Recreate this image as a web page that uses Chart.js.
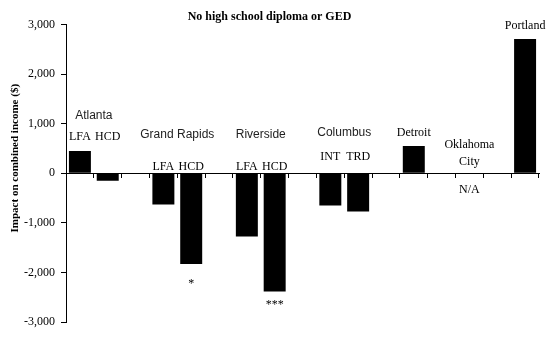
<!DOCTYPE html>
<html>
<head>
<meta charset="utf-8">
<script src="https://cdn.jsdelivr.net/npm/chart.js@4/dist/chart.umd.min.js"></script>
<style>
  html, body { margin: 0; padding: 0; background: #fff; }
  #wrap { width: 560px; height: 340px; }
</style>
</head>
<body>
<div id="wrap"><canvas id="chart"></canvas></div>
<script>
// Données (impact sur le revenu combiné, en $)
const categories = ['Atlanta LFA', 'Atlanta HCD', '', 'Grand Rapids LFA', 'Grand Rapids HCD', '',
                    'Riverside LFA', 'Riverside HCD', '', 'Columbus INT', 'Columbus TRD', '',
                    'Detroit', '', 'Oklahoma City', '', 'Portland'];
const impacts = [450, -150, null, -633, -1829, null, -1278, -2387, null, -653, -774, null, 550, null, null, null, 2708];
const programCodes = ['LFA', 'HCD', '', 'LFA', 'HCD', '', 'LFA', 'HCD', '', 'INT', 'TRD', '', '', '', '', '', ''];
const stars = ['', '', '', '', '*', '', '', '***', '', '', '', '', '', '', '', '', ''];
const yTicks = [-3000, -2000, -1000, 0, 1000, 2000, 3000];

const SERIF = "'Liberation Serif', 'Times New Roman', serif";
const SANS = "'Liberation Sans', Arial, sans-serif";

// Placement des étiquettes : index des catégories + hauteur en valeur de l'axe Y
const siteLabels = [
  { text: 'Atlanta', slots: [0, 1], y: 1150, font: SANS },
  { text: 'Grand Rapids', slots: [3, 4], y: 772, font: SANS },
  { text: 'Riverside', slots: [6, 7], y: 772, font: SANS },
  { text: 'Columbus', slots: [9, 10], y: 813, font: SANS },
  { text: 'Detroit', slots: [12], y: 813, font: SERIF },
  { text: 'Oklahoma', slots: [14], y: 570, font: SERIF },
  { text: 'City', slots: [14], y: 228, font: SERIF },
  { text: 'N/A', slots: [14], y: -337, font: SERIF },
  { text: 'Portland', slots: [16], y: 2970, font: SERIF }
];
const codeHeights = { 0: 730, 1: 730, 3: 127, 4: 127, 6: 127, 7: 127, 9: 329, 10: 329 };
const starHeights = { 4: -2230, 7: -2650 };

const labelsPlugin = {
  id: 'labels',
  afterDraw(chart) {
    const ctx = chart.ctx;
    const xs = chart.scales.x, ys = chart.scales.y;
    ctx.save();
    ctx.textAlign = 'center';
    ctx.textBaseline = 'middle';
    siteLabels.forEach(l => {
      const x = l.slots.reduce((s, i) => s + xs.getPixelForValue(i), 0) / l.slots.length;
      ctx.font = '12px ' + l.font;
      ctx.fillStyle = l.font === SANS ? '#222' : '#000';
      ctx.fillText(l.text, x, ys.getPixelForValue(l.y));
    });
    ctx.font = '12px ' + SERIF;
    ctx.fillStyle = '#000';
    programCodes.forEach((c, i) => {
      if (c) ctx.fillText(c, xs.getPixelForValue(i), ys.getPixelForValue(codeHeights[i]));
    });
    stars.forEach((s, i) => {
      if (s) ctx.fillText(s, xs.getPixelForValue(i), ys.getPixelForValue(starHeights[i]));
    });
    // titre de l'axe Y
    ctx.translate(15, (ys.top + ys.bottom) / 2 - 15);
    ctx.rotate(-Math.PI / 2);
    ctx.font = 'bold 11px ' + SERIF;
    ctx.fillText('Impact on combined income ($)', 0, 0);
    ctx.restore();
  }
};

new Chart(document.getElementById('chart'), {
  type: 'bar',
  data: {
    labels: categories,
    datasets: [{
      data: impacts,
      backgroundColor: '#000',
      borderWidth: 0,
      barPercentage: 0.79,
      categoryPercentage: 1
    }]
  },
  options: {
    responsive: true,
    maintainAspectRatio: false,
    animation: false,
    layout: { padding: { left: 0, right: 21, top: 0, bottom: 18 } },
    scales: {
      x: {
        position: { y: 0 },
        grid: { display: true, drawOnChartArea: false, drawTicks: true, tickLength: 4, color: '#000', offset: true },
        border: { display: true, color: '#000', width: 1 },
        ticks: { display: false }
      },
      y: {
        min: -3000,
        max: 3000,
        afterFit(scale) { scale.width = 66; },
        afterBuildTicks(scale) { scale.ticks = yTicks.map(v => ({ value: v })); },
        grid: { drawOnChartArea: false, drawTicks: true, tickLength: 5, color: '#000' },
        border: { display: true, color: '#000', width: 1 },
        ticks: {
          padding: 6,
          color: '#000',
          font: { family: SERIF, size: 12 },
          callback: v => v.toLocaleString('en-US')
        }
      }
    },
    plugins: {
      legend: { display: false },
      tooltip: { enabled: false },
      title: {
        display: true,
        text: 'No high school diploma or GED',
        color: '#000',
        font: { family: SERIF, size: 12, weight: 'bold' },
        padding: { top: 10, bottom: 0 }
      }
    }
  },
  plugins: [labelsPlugin]
});
</script>
</body>
</html>
